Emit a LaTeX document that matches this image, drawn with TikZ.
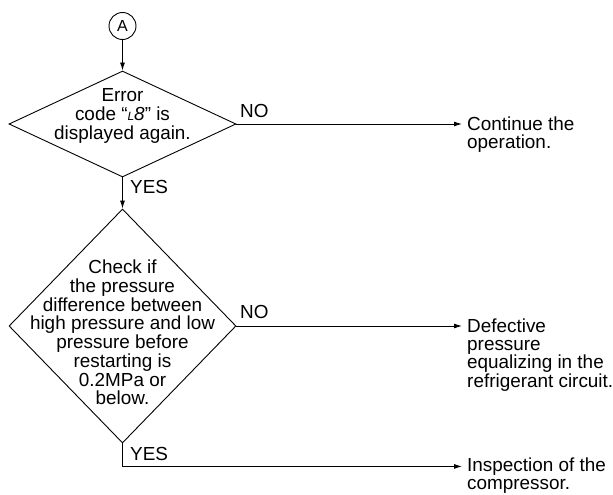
\documentclass[tikz,border=0pt]{standalone}
\usepackage{fontspec}
\setmainfont{Liberation Sans}
\usepackage{tikz}
\usetikzlibrary{shapes.geometric, arrows.meta, positioning, calc}
\newcommand{\flowfont}{\fontsize{18.9}{18.7}\selectfont}
\tikzset{
    decision/.style={diamond, draw, line width=0.9pt, inner sep=0pt,
                     minimum width=227pt, minimum height=106pt},
    dectext/.style={align=center, inner sep=0pt, font=\flowfont},
    result/.style={align=left, inner xsep=5pt, inner ysep=0pt,
                   anchor=north west, font=\fontsize{18.9}{17.3}\selectfont},
    lbl/.style={inner sep=0pt, anchor=base west, font=\flowfont},
    connector/.style={circle, draw, line width=0.9pt, minimum size=27pt,
                      inner sep=0pt, font=\fontsize{16}{16}\selectfont},
    arrow/.style={line width=0.9pt, -{Latex[length=8pt,width=5pt]}}
}

\begin{document}
\begin{tikzpicture}[x=1pt, y=-1pt]
    \useasboundingbox (0,0) rectangle (613,495);

    % Connector and decisions
    \node[connector] (conA) at (122.5,26) {A};
    \node[decision] (dec1) at (122.5,124) {};
    \node[decision, minimum height=234pt] (dec2) at (122.5,326) {};

    \node[dectext] (txt1) at ($(dec1.center)+(0,8pt)$)
        {Error\\code “{\itshape\fontsize{12}{12}\selectfont L}{\itshape 8}” is\\displayed again.};
    \node[dectext] (txt2) at ($(dec2.center)+(0,-6.5pt)$)
        {Check if\\the pressure\\difference between\\high pressure and low\\pressure before\\restarting is\\0.2MPa or\\below.};

    % Results
    \node[result] (out1) at (462,117) {Continue the\\operation.};
    \node[result] (out2) at (462,319) {Defective\\pressure\\equalizing in the\\refrigerant circuit.};
    \node[result] (out3) at (462,458) {Inspection of the\\compressor.};

    % Connectors
    \draw[arrow] (conA) -- (dec1.north);
    \draw[arrow] (dec1.south) -- (dec2.north);
    \draw[arrow] (dec1.east) -- (dec1.east -| out1.west);
    \draw[arrow] (dec2.east) -- (dec2.east -| out2.west);
    \coordinate (bend) at ($(dec2.south)+(0,-23pt)$);
    \draw[arrow] (dec2.south) -- (bend) -- (bend -| out3.west);

    % Labels
    \node[lbl] (no1) at (240,117) {NO};
    \node[lbl] (yes1) at (130,193) {YES};
    \node[lbl] (no2) at (240,318) {NO};
    \node[lbl] (yes2) at (130,460) {YES};
\end{tikzpicture}
\end{document}
